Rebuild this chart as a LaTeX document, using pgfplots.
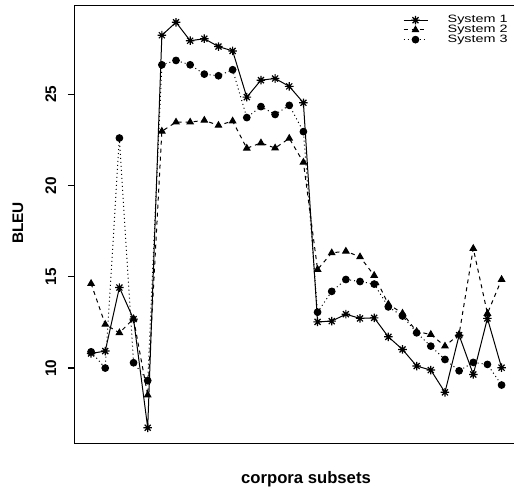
\documentclass[border=0pt]{standalone}
\usepackage{fontspec}
\setmainfont{Liberation Sans}
\newfontfamily\legfont[FakeStretch=1.35]{Liberation Sans}
\usepackage{pgfplots}
\pgfplotsset{compat=1.18}
\pgfdeclareplotmark{rstar}{%
  \pgfpathmoveto{\pgfqpoint{-\pgfplotmarksize}{0pt}}\pgfpathlineto{\pgfqpoint{\pgfplotmarksize}{0pt}}%
  \pgfpathmoveto{\pgfqpoint{0pt}{-\pgfplotmarksize}}\pgfpathlineto{\pgfqpoint{0pt}{\pgfplotmarksize}}%
  \pgfpathmoveto{\pgfqpoint{-0.707\pgfplotmarksize}{-0.707\pgfplotmarksize}}\pgfpathlineto{\pgfqpoint{0.707\pgfplotmarksize}{0.707\pgfplotmarksize}}%
  \pgfpathmoveto{\pgfqpoint{-0.707\pgfplotmarksize}{0.707\pgfplotmarksize}}\pgfpathlineto{\pgfqpoint{0.707\pgfplotmarksize}{-0.707\pgfplotmarksize}}%
  \pgfusepathqstroke}
\pgfplotstableread{
x s1 s2 s3
1 10.80 14.63 10.89
2 10.93 12.39 10.00
3 14.41 11.93 22.60
4 12.68 12.70 10.29
5 6.73 8.52 9.31
6 28.23 22.97 26.61
7 28.94 23.47 26.85
8 27.93 23.47 26.61
9 28.04 23.57 26.10
10 27.61 23.29 26.01
11 27.37 23.53 26.34
12 24.84 22.04 23.72
13 25.77 22.33 24.32
14 25.86 22.05 23.89
15 25.43 22.58 24.39
16 24.53 21.27 22.95
17 12.53 15.40 13.06
18 12.57 16.31 14.20
19 12.95 16.40 14.85
20 12.72 16.09 14.74
21 12.75 15.07 14.60
22 11.71 13.50 13.35
23 11.02 13.00 12.85
24 10.11 12.00 11.93
25 9.89 11.84 11.20
26 8.67 11.20 10.47
27 11.80 11.85 9.85
28 9.65 16.55 10.31
29 12.72 12.99 10.20
30 10.02 14.85 9.07
}\data
\begin{document}
\begin{tikzpicture}
\begin{axis}[
  at={(56.0pt,32.8pt)}, anchor=south west,
  scale only axis, width=332.5pt, height=328.2pt,
  xmin=-0.16, xmax=31.16, ymin=5.88, ymax=29.85,
  xtick=\empty, ytick={10,15,20,25}, yticklabels={},
  tick align=outside, major tick length=5pt,
  axis line style={line width=1pt},
  every tick/.style={black, line width=1pt},
  clip=false,
  legend style={draw=none, fill=none, at={(0.7406,0.978)}, anchor=north west,
    inner sep=0pt, outer sep=0pt, row sep=0pt,
    font=\legfont\fontsize{8}{9}\selectfont,
    nodes={inner sep=0.25pt, text height=5.4pt, text depth=1.4pt},
    /tikz/every odd column/.append style={column sep=14.5pt}},
  legend cell align=left,
  legend image code/.code={\draw[mark repeat=2,mark phase=2,#1] plot coordinates {(0pt,0pt) (9pt,0pt) (18pt,0pt)};},
]
\addplot[black, line width=0.75pt, mark=rstar, mark size=3.2pt, mark options={solid, line width=0.9pt}] table[x=x,y=s1] {\data};
\addlegendentry{System 1}
\addplot[black, line width=0.75pt, dash pattern=on 3pt off 3pt, mark=triangle*, mark size=2.7pt, mark options={solid}] table[x=x,y=s2] {\data};
\addlegendentry{System 2}
\addplot[black, line width=0.75pt, dash pattern=on 0.75pt off 2.25pt, mark=*, mark size=2.5pt, mark options={solid}] table[x=x,y=s3] {\data};
\addlegendentry{System 3}
\pgfplotsinvokeforeach{10,15,20,25}{
  \node[rotate=90, font=\bfseries\fontsize{11.5}{12}\selectfont, inner sep=0pt] at ([xshift=-17.8pt]axis cs:-0.16,#1) {#1};
}
\end{axis}
\node[rotate=90, font=\bfseries\fontsize{11.5}{12}\selectfont] at (13.5pt,198pt) {BLEU};
\node[anchor=base, font=\bfseries\fontsize{12.5}{14}\selectfont, inner sep=0pt] at (229.5pt,3pt) {corpora subsets};
\pgfresetboundingbox
\useasboundingbox (0,0) rectangle (385.5pt,365.25pt);
\end{tikzpicture}
\end{document}
